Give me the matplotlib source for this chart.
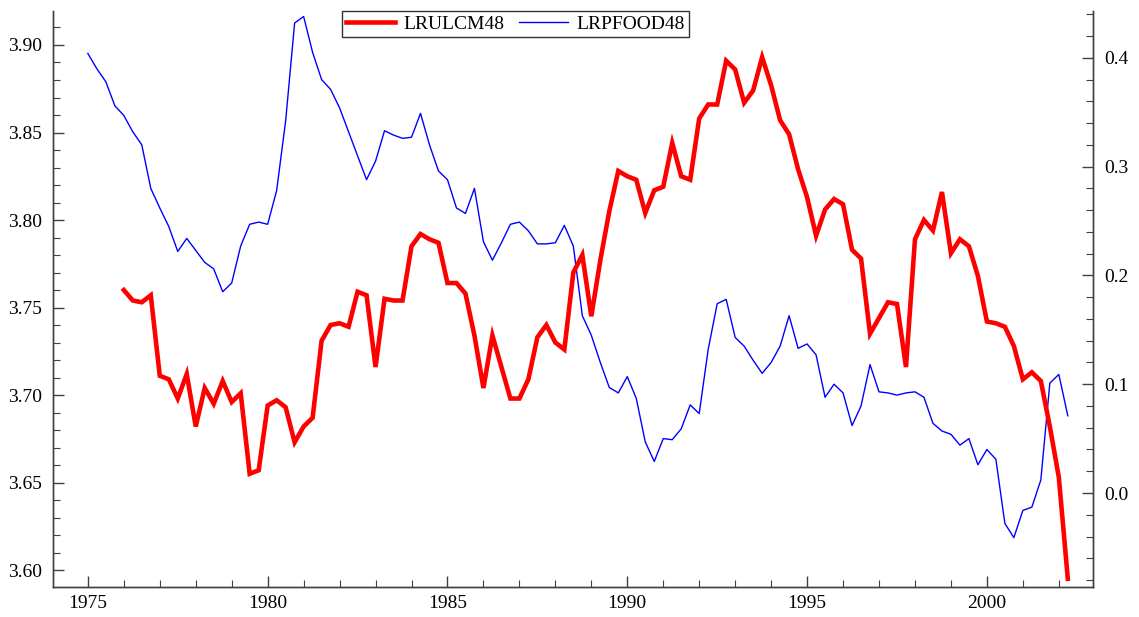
import matplotlib
matplotlib.use("Agg")
import matplotlib.pyplot as plt
import numpy as np
from matplotlib.ticker import MultipleLocator, FormatStrFormatter

plt.rcParams["font.family"] = ["Liberation Serif", "DejaVu Serif"]

# quarterly observations
food_start = 1975.0   # LRPFOOD48 starts 1975Q1
ulc_start = 1976.0    # LRULCM48 starts 1976Q1

lrulcm48 = [
    3.760, 3.754, 3.753, 3.757, 3.711, 3.709, 3.698, 3.712, 3.682, 3.704,
    3.695, 3.708, 3.696, 3.701, 3.655, 3.657, 3.694, 3.697, 3.693, 3.673,
    3.682, 3.687, 3.731, 3.740, 3.741, 3.739, 3.759, 3.757, 3.716, 3.755,
    3.754, 3.754, 3.785, 3.792, 3.789, 3.787, 3.764, 3.764, 3.758, 3.734,
    3.704, 3.734, 3.716, 3.698, 3.698, 3.709, 3.733, 3.740, 3.730, 3.726,
    3.770, 3.780, 3.745, 3.777, 3.805, 3.828, 3.825, 3.823, 3.804, 3.817,
    3.819, 3.844, 3.825, 3.823, 3.858, 3.866, 3.866, 3.891, 3.886, 3.867,
    3.874, 3.893, 3.877, 3.857, 3.849, 3.829, 3.813, 3.791, 3.806, 3.812,
    3.809, 3.783, 3.778, 3.735, 3.744, 3.753, 3.752, 3.716, 3.789, 3.800,
    3.794, 3.816, 3.781, 3.789, 3.785, 3.768, 3.742, 3.741, 3.739, 3.728,
    3.709, 3.713, 3.708, 3.682, 3.653, 3.595,
]

lrpfood48 = [
    0.404, 0.390, 0.378, 0.356, 0.347, 0.332, 0.320, 0.280, 0.262, 0.245,
    0.222, 0.234, 0.223, 0.212, 0.206, 0.185, 0.193, 0.227, 0.247, 0.249,
    0.247, 0.278, 0.342, 0.432, 0.438, 0.405, 0.380, 0.371, 0.354, 0.332,
    0.310, 0.288, 0.305, 0.333, 0.329, 0.326, 0.327, 0.349, 0.320, 0.296,
    0.288, 0.262, 0.257, 0.280, 0.231, 0.214, 0.230, 0.247, 0.249, 0.241,
    0.229, 0.229, 0.230, 0.246, 0.227, 0.163, 0.145, 0.120, 0.097, 0.092,
    0.107, 0.087, 0.047, 0.029, 0.050, 0.049, 0.059, 0.081, 0.073, 0.132,
    0.174, 0.178, 0.143, 0.135, 0.122, 0.110, 0.120, 0.135, 0.163, 0.133,
    0.137, 0.127, 0.088, 0.100, 0.092, 0.062, 0.080, 0.118, 0.093, 0.092,
    0.090, 0.092, 0.093, 0.088, 0.064, 0.057, 0.054, 0.044, 0.050, 0.026,
    0.040, 0.031, -0.028, -0.041, -0.016, -0.013, 0.012, 0.101, 0.109, 0.071,
]

x_ulc = ulc_start + 0.25 * np.arange(len(lrulcm48))
x_food = food_start + 0.25 * np.arange(len(lrpfood48))

spine_color = "#404040"

fig = plt.figure(figsize=(11.39, 6.17), dpi=100)
ax = fig.add_axes([0.0465, 0.0486, 0.9131, 0.9335])
ax2 = ax.twinx()

l1, = ax.plot(x_ulc, lrulcm48, color="#ff0000", linewidth=3.3, label="LRULCM48",
              solid_joinstyle="miter")
l2, = ax2.plot(x_food, lrpfood48, color="#0000ff", linewidth=1.0, label="LRPFOOD48")

ax.set_xlim(1974.03, 2002.95)
ax.set_ylim(3.5903, 3.9194)
ax2.set_ylim(-0.0864, 0.443)

ax.xaxis.set_major_locator(MultipleLocator(5))
ax.xaxis.set_minor_locator(MultipleLocator(1))
ax.yaxis.set_major_locator(MultipleLocator(0.05))
ax.yaxis.set_minor_locator(MultipleLocator(0.01))
ax.yaxis.set_major_formatter(FormatStrFormatter("%.2f"))
ax2.yaxis.set_major_locator(MultipleLocator(0.1))
ax2.yaxis.set_minor_locator(MultipleLocator(0.02))
ax2.yaxis.set_major_formatter(FormatStrFormatter("%.1f"))

for a in (ax, ax2):
    a.spines["top"].set_visible(False)
    for s in a.spines.values():
        s.set_color(spine_color)
        s.set_linewidth(1.0)
    a.tick_params(which="both", direction="in", colors=spine_color,
                  labelcolor="black", labelsize=14)
    a.tick_params(which="major", length=8, width=1.0)
    a.tick_params(which="minor", length=5, width=0.8)
ax.tick_params(axis="x", pad=6)
ax.tick_params(axis="y", pad=8)
ax2.tick_params(axis="y", pad=8)

leg = ax.legend(handles=[l1, l2], loc="upper left", bbox_to_anchor=(0.278, 1.0),
                ncol=2, frameon=True, fancybox=False, fontsize=14,
                borderaxespad=0, handlelength=2.5, columnspacing=0.75,
                borderpad=0.22, handletextpad=0.45)
leg.get_frame().set_edgecolor("black")
leg.get_frame().set_linewidth(1.0)
leg.set_zorder(5)
ax.set_zorder(ax2.get_zorder() + 1)
ax.patch.set_visible(False)

fig.savefig("out.png", dpi=100)
